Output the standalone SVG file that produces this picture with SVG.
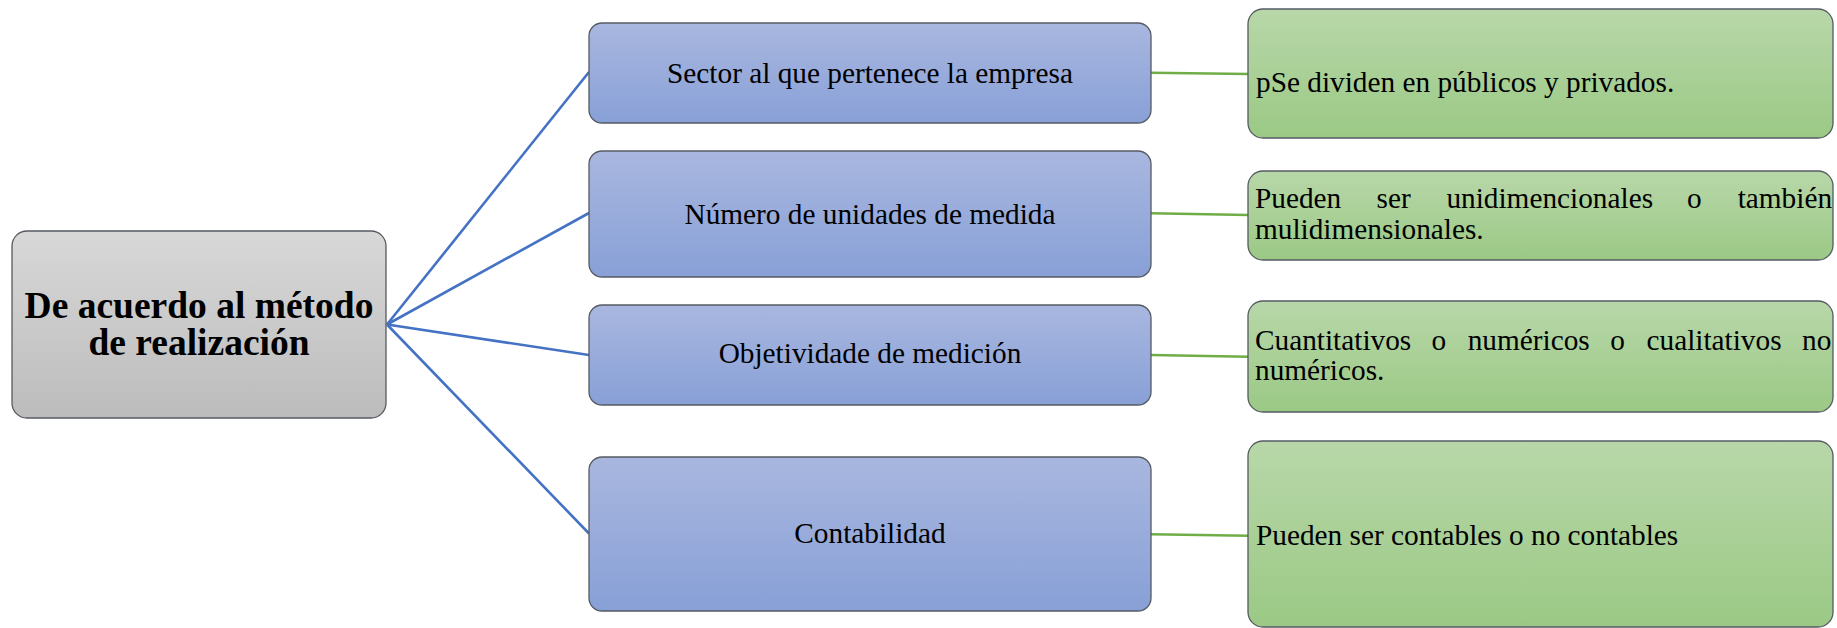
<svg xmlns="http://www.w3.org/2000/svg" width="1837" height="628" viewBox="0 0 1837 628">
<defs>
<linearGradient id="gGray" x1="0" y1="0" x2="0" y2="1"><stop offset="0" stop-color="#D8D8D8"/><stop offset="1" stop-color="#BCBCBC"/></linearGradient>
<linearGradient id="gBlue" x1="0" y1="0" x2="0" y2="1"><stop offset="0" stop-color="#A9B7DF"/><stop offset="1" stop-color="#88A0D7"/></linearGradient>
<linearGradient id="gGreen" x1="0" y1="0" x2="0" y2="1"><stop offset="0" stop-color="#B8D7A9"/><stop offset="1" stop-color="#9BC985"/></linearGradient>
</defs>
<style>
.box{stroke:#555B63;stroke-width:1.3}
.root{fill:url(#gGray)}
.blue{fill:url(#gBlue)}
.green{fill:url(#gGreen)}
.t{font-family:"Liberation Serif","Times New Roman",serif;font-size:29.3px;fill:#000}
.tb{font-family:"Liberation Serif","Times New Roman",serif;font-size:37.5px;font-weight:bold;fill:#000}
.cb{stroke:#4472C4;stroke-width:2.6;fill:none}
.cg{stroke:#70AD47;stroke-width:2.6;fill:none}
</style>
<rect width="1837" height="628" fill="#FFFFFF"/>
<g id="connectors">
<line class="cb" x1="387" y1="324.5" x2="589" y2="72"/>
<line class="cb" x1="387" y1="324.5" x2="589" y2="213"/>
<line class="cb" x1="387" y1="324.5" x2="589" y2="355"/>
<line class="cb" x1="387" y1="324.5" x2="589" y2="533.5"/>
<line class="cg" x1="1151" y1="72.7" x2="1248" y2="74"/>
<line class="cg" x1="1151" y1="213.3" x2="1248" y2="215"/>
<line class="cg" x1="1151" y1="355" x2="1248" y2="356.7"/>
<line class="cg" x1="1151" y1="534.3" x2="1248" y2="535.7"/>
</g>
<g id="root">
<rect class="box root" x="12" y="231" width="374" height="187" rx="15"/>
<text class="tb" text-anchor="middle" x="199" y="318">De acuerdo al método</text>
<text class="tb" text-anchor="middle" x="199" y="355">de realización</text>
</g>
<g id="b1">
<rect class="box blue" x="589" y="23" width="562" height="100" rx="13"/>
<text class="t" text-anchor="middle" x="870" y="83">Sector al que pertenece la empresa</text>
</g>
<g id="b2">
<rect class="box blue" x="589" y="151" width="562" height="126" rx="13"/>
<text class="t" text-anchor="middle" x="870" y="224">Número de unidades de medida</text>
</g>
<g id="b3">
<rect class="box blue" x="589" y="305" width="562" height="100" rx="13"/>
<text class="t" text-anchor="middle" x="870" y="363">Objetividade de medición</text>
</g>
<g id="b4">
<rect class="box blue" x="589" y="457" width="562" height="154" rx="13"/>
<text class="t" text-anchor="middle" x="870" y="542.5">Contabilidad</text>
</g>
<g id="g1">
<rect class="box green" x="1248" y="9" width="585" height="129" rx="15"/>
<text class="t" x="1256" y="92">pSe dividen en públicos y privados.</text>
</g>
<g id="g2">
<rect class="box green" x="1248" y="171" width="585" height="89" rx="15"/>
<text class="t" y="208"><tspan x="1255">Pueden</tspan><tspan x="1376.5">ser</tspan><tspan x="1446.4">unidimencionales</tspan><tspan x="1687.1">o</tspan><tspan x="1737.7">también</tspan></text>
<text class="t" x="1255" y="239">mulidimensionales.</text>
</g>
<g id="g3">
<rect class="box green" x="1248" y="301" width="585" height="111" rx="15"/>
<text class="t" y="350"><tspan x="1255">Cuantitativos</tspan><tspan x="1431.5">o</tspan><tspan x="1467.7">numéricos</tspan><tspan x="1610.3">o</tspan><tspan x="1646.5">cualitativos</tspan><tspan x="1802">no</tspan></text>
<text class="t" x="1255" y="380">numéricos.</text>
</g>
<g id="g4">
<rect class="box green" x="1248" y="441" width="585" height="186" rx="15"/>
<text class="t" x="1256" y="545">Pueden ser contables o no contables</text>
</g>
</svg>
